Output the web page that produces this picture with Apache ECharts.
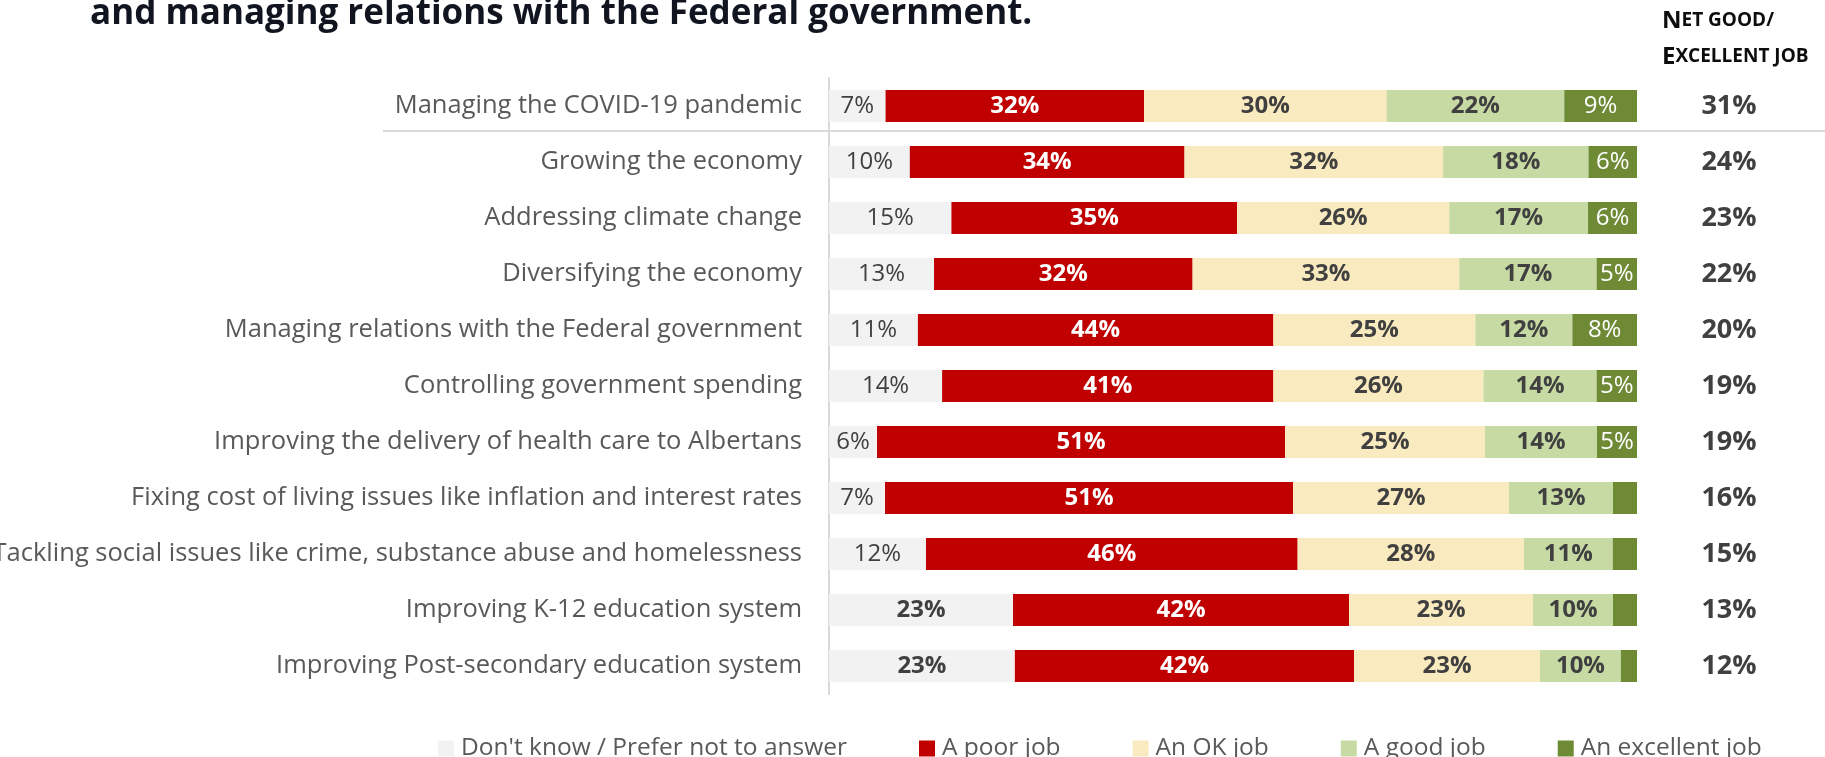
<!DOCTYPE html>
<html>
<head>
<meta charset="utf-8">
<script src="https://cdn.jsdelivr.net/npm/echarts@6/dist/echarts.min.js"></script>
<style>
html,body{margin:0;padding:0;background:#fff;}
#chart{width:1825px;height:757px;}
</style>
</head>
<body>
<div id="chart"></div>
<script>
const categories = [
  "Managing the COVID-19 pandemic",
  "Growing the economy",
  "Addressing climate change",
  "Diversifying the economy",
  "Managing relations with the Federal government",
  "Controlling government spending",
  "Improving the delivery of health care to Albertans",
  "Fixing cost of living issues like inflation and interest rates",
  "Tackling social issues like crime, substance abuse and homelessness",
  "Improving K-12 education system",
  "Improving Post-secondary education system"
];
const seriesNames = ["Don't know / Prefer not to answer", "A poor job", "An OK job", "A good job", "An excellent job"];
const dontKnow  = [7, 10, 15, 13, 11, 14, 6, 7, 12, 23, 23];
const poorJob   = [32, 34, 35, 32, 44, 41, 51, 51, 46, 42, 42];
const okJob     = [30, 32, 26, 33, 25, 26, 25, 27, 28, 23, 23];
const goodJob   = [22, 18, 17, 17, 12, 14, 14, 13, 11, 10, 10];
const excellentJob = [9, 6, 6, 5, 8, 5, 5, 3, 3, 3, 2];
const netGood   = [31, 24, 23, 22, 20, 19, 19, 16, 15, 13, 12];
const colors = ["#f2f2f2", "#c00000", "#faeabf", "#c8daa4", "#6f8a35"];

const raw = [dontKnow, poorJob, okJob, goodJob, excellentJob];
const rowSum = categories.map((_, i) => raw.reduce((s, arr) => s + arr[i], 0));

const labelStyles = [
  {color: "#404040", fontWeight: "normal"},
  {color: "#ffffff", fontWeight: "bold"},
  {color: "#404040", fontWeight: "bold"},
  {color: "#404040", fontWeight: "bold"},
  {color: "#ffffff", fontWeight: "normal"}
];

const series = raw.map((arr, k) => ({
  name: seriesNames[k],
  type: "bar",
  stack: "total",
  barWidth: 32,
  itemStyle: {color: colors[k]},
  label: {
    show: true,
    position: "inside",
    fontFamily: "Open Sans",
    fontSize: 24,
    color: labelStyles[k].color,
    fontWeight: labelStyles[k].fontWeight,
    formatter: p => arr[p.dataIndex] + "%"
  },
  emphasis: {disabled: true},
  data: arr.map((v, i) => {
    const item = {value: v / rowSum[i] * 100};
    if (k === 0 && v >= 20) item.label = {fontWeight: "bold"};
    if (k === 4 && v < 5) item.label = {show: false};
    return item;
  })
}));

const chart = echarts.init(document.getElementById("chart"));
chart.setOption({
  animation: false,
  textStyle: {fontFamily: "Open Sans"},
  grid: {left: 829, right: 188, top: 78, bottom: 63, containLabel: false, outerBoundsMode: "none"},
  xAxis: {type: "value", min: 0, max: 100, show: false},
  yAxis: [
    {
      type: "category",
      inverse: true,
      data: categories,
      axisLine: {show: true, lineStyle: {color: "#d9d9d9", width: 2}},
      axisTick: {show: false},
      axisLabel: {fontFamily: "Open Sans", fontSize: 25.5, color: "#595959", margin: 27}
    },
    {
      type: "category",
      inverse: true,
      position: "right",
      data: categories,
      axisLine: {show: false},
      axisTick: {show: false},
      axisLabel: {
        fontFamily: "Open Sans", fontSize: 27, fontWeight: "bold", color: "#404040",
        margin: 92, align: "center",
        formatter: (v, i) => netGood[i] + "%"
      }
    }
  ],
  legend: {
    data: seriesNames,
    left: 438,
    top: 736,
    padding: 0,
    itemWidth: 16,
    itemHeight: 16,
    itemGap: 72,
    icon: "rect",
    textStyle: {fontFamily: "Open Sans", fontSize: 24.5, color: "#595959", padding: [0, 0, 0, 2]}
  },
  graphic: [
    {
      type: "text",
      left: 90,
      top: -3,
      style: {
        text: "and managing relations with the Federal government.",
        font: "bold 35px 'Open Sans'",
        fill: "#121420"
      }
    },
    {
      type: "text",
      left: 1662,
      top: 9,
      style: {
        text: "{b|N}{s|ET GOOD/}\n{b|E}{s|XCELLENT JOB}",
        fill: "#0d0d0d",
        rich: {
          b: {fontFamily: "Open Sans", fontSize: 24, fontWeight: "bold", lineHeight: 36, fill: "#0d0d0d"},
          s: {fontFamily: "Open Sans", fontSize: 19, fontWeight: "bold", lineHeight: 36, fill: "#0d0d0d"}
        }
      }
    },
    {
      type: "line",
      shape: {x1: 383, y1: 131, x2: 1825, y2: 131},
      style: {stroke: "#d9d9d9", lineWidth: 2}
    }
  ],
  series: series
});
</script>
</body>
</html>
